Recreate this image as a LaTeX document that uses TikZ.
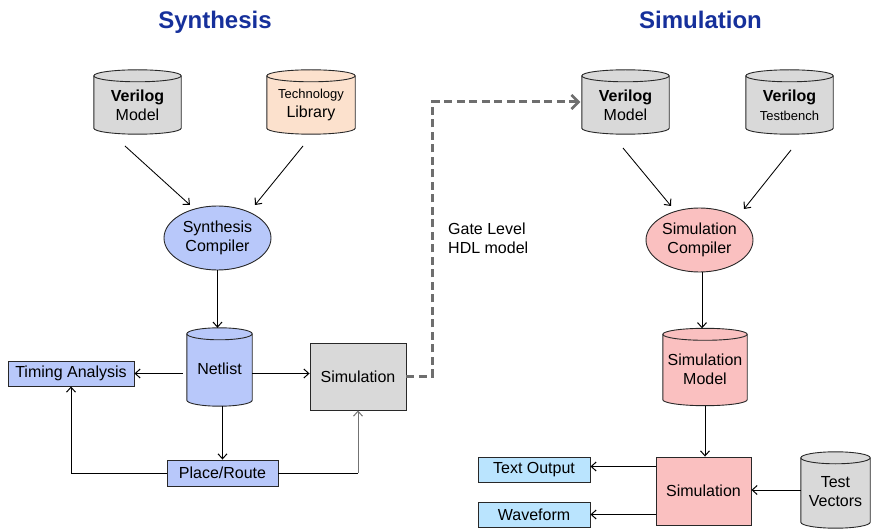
\documentclass[tikz,border=0pt]{standalone}
\usepackage{fontspec}
\setmainfont{Liberation Sans}
\usetikzlibrary{shapes.geometric,arrows.meta,calc,backgrounds}
\definecolor{cgray}{RGB}{217,217,217}
\definecolor{cpeach}{RGB}{252,225,205}
\definecolor{cblue}{RGB}{184,200,250}
\definecolor{cpink}{RGB}{250,192,192}
\definecolor{ccyan}{RGB}{186,228,254}
\definecolor{ctitle}{RGB}{22,48,155}
\definecolor{cdash}{RGB}{110,110,110}
\definecolor{cline}{RGB}{40,40,40}

\newcommand\drawcyl[2]{%
  \begin{pgfonlayer}{background}
  \path[draw=cline, line width=0.9pt, fill=#2]
    let \p1=(#1.north west), \p2=(#1.south east) in
    (\x1,\y1-6pt) -- (\x1,\y2+6pt)
    arc[start angle=180, end angle=360, x radius={(\x2-\x1)/2}, y radius=6pt]
    -- (\x2,\y1-6pt)
    arc[start angle=0, end angle=180, x radius={(\x2-\x1)/2}, y radius=6pt] -- cycle;
  \path[draw=cline, line width=0.9pt]
    let \p1=(#1.north west), \p2=(#1.south east) in
    (\x1,\y1-6pt) arc[start angle=180, end angle=360, x radius={(\x2-\x1)/2}, y radius=6pt];
  \end{pgfonlayer}}

\tikzset{
  txt/.style={font=\fontsize{16}{19}\selectfont, align=center, inner sep=0pt},
  box/.style={txt, draw=cline, line width=0.9pt},
  ell/.style={txt, ellipse, draw=cline, line width=0.9pt, minimum width=107pt, minimum height=64pt},
  cylnode/.style={inner sep=0pt, draw=none},
  arr/.style={draw=black, line width=0.85pt, -{Straight Barb[length=5pt,width=9pt,line width=1pt]}},
  plain/.style={draw=black, line width=0.85pt},
  dasharr/.style={draw=cdash, line width=3pt, dash pattern=on 8pt off 4.5pt,
     -{Straight Barb[length=7pt,width=14pt,line width=2.6pt]}},
  title/.style={font=\fontsize{24}{28}\selectfont\bfseries, text=ctitle, inner sep=0pt},
}

\begin{document}
\begin{tikzpicture}[x=1pt,y=-1pt]
\useasboundingbox (0,0) rectangle (892,529);

% titles
\node[title, anchor=base] (t1) at (215,29) {Synthesis};
\node[title, anchor=base] (t2) at (700.5,29) {Simulation};

% ---------- synthesis side ----------
\node[cylnode, minimum width=87pt, minimum height=64pt] (vm1) at (137.5,102) {};
\drawcyl{vm1}{cgray}
\node[txt] (vm1t) at ([yshift=-3pt]vm1.center) {\textbf{Verilog}\\Model};

\node[cylnode, minimum width=88pt, minimum height=64pt] (tl) at (311,102) {};
\drawcyl{tl}{cpeach}
\node[txt] (tlt) at ([yshift=-3pt]tl.center) {{\fontsize{13}{16}\selectfont Technology}\\Library};

\node[ell, fill=cblue] (sc) at (217.5,238) {Synthesis\\Compiler};

\node[cylnode, minimum width=65pt, minimum height=78pt] (net) at (219.5,367) {};
\drawcyl{net}{cblue}
\node[txt] (nett) at ([yshift=-2pt]net.center) {Netlist};

\node[box, fill=cblue, minimum width=126pt, minimum height=25pt] (ta) at (71,373.5) {Timing Analysis};
\node[box, fill=cgray, minimum width=96pt, minimum height=67pt] (sim1) at (358,376.5) {Simulation};
\node[box, fill=cblue, minimum width=111pt, minimum height=26pt] (pr) at (222.5,473) {Place/Route};

\coordinate (a1s) at (125,146);
\coordinate (a1e) at (190,205);
\coordinate (a2s) at (303,146);
\coordinate (a2e) at (255,205);
\draw[arr] (a1s) -- (a1e);
\draw[arr] (a2s) -- (a2e);

\draw[arr] (sc.south) -- (sc.south |- net.north);
\draw[arr, shorten <=4pt] (net.west |- ta.east) -- (ta.east);
\draw[arr] (net.east |- ta.east) -- (sim1.west |- ta.east);
\draw[arr] (net.south -| pr.north) -- (pr.north);
\draw[arr] (pr.west) -| (ta.south);
\draw[plain] (pr.east) -- (pr.east -| sim1.south);
\draw[arr, draw=black!55] (pr.east -| sim1.south) -- (sim1.south);

% dashed gate level link
\node[cylnode, minimum width=87pt, minimum height=64pt] (vm2) at (625.5,102) {};
\draw[dasharr, shorten >=1.5pt] (sim1.east) -- ++(26,0) |- (vm2.west);
\node[txt, align=left, anchor=north west] (gl) at (448,222.5) {Gate Level\\HDL model};

% ---------- simulation side ----------
\drawcyl{vm2}{cgray}
\node[txt] (vm2t) at ([yshift=-3pt]vm2.center) {\textbf{Verilog}\\Model};

\node[cylnode, minimum width=87pt, minimum height=64pt] (tb) at (789.5,102) {};
\drawcyl{tb}{cgray}
\node[txt] (tbt) at ([yshift=-3pt]tb.center) {\textbf{Verilog}\\{\fontsize{13}{16}\selectfont Testbench}};

\node[ell, fill=cpink] (sic) at (699.5,240) {Simulation\\Compiler};

\node[cylnode, minimum width=84pt, minimum height=77pt] (sm) at (705,367) {};
\drawcyl{sm}{cpink}
\node[txt] (smt) at ([yshift=-2.5pt]sm.center) {Simulation\\Model};

\node[box, fill=cpink, minimum width=95pt, minimum height=68pt] (sim2) at (703.5,491) {Simulation};

\node[cylnode, minimum width=69pt, minimum height=76pt] (tv) at (835.5,490) {};
\drawcyl{tv}{cgray}
\node[txt] (tvt) at ([yshift=-2pt]tv.center) {Test\\Vectors};

\node[box, fill=ccyan, minimum width=112pt, minimum height=25pt] (to) at (534,469.5) {Text Output};
\node[box, fill=ccyan, minimum width=112pt, minimum height=25pt] (wf) at (534,514.5) {Waveform};

\coordinate (b1s) at (623,148);
\coordinate (b1e) at (671,206);
\coordinate (b2s) at (791,150);
\coordinate (b2e) at (744,209);
\draw[arr] (b1s) -- (b1e);
\draw[arr] (b2s) -- (b2e);

\draw[arr] ([xshift=2.5pt]sic.south) -- ([xshift=2.5pt]sic.south |- sm.north);
\draw[arr] (sm.south) -- (sm.south |- sim2.north);
\draw[arr] (tv.west) -- (tv.west -| sim2.east);
\draw[arr] ([yshift=3pt]sim2.west |- to.east) -- ([yshift=3pt]to.east);
\draw[arr] (sim2.west |- wf.east) -- (wf.east);
\end{tikzpicture}
\end{document}
